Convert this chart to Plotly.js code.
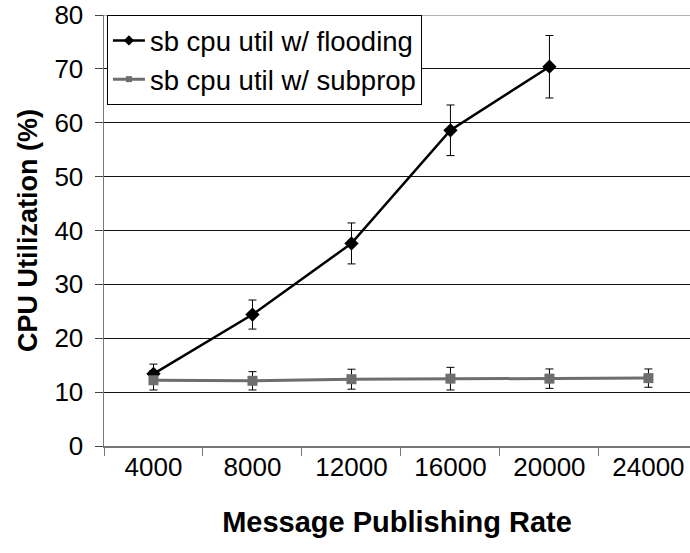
<!DOCTYPE html>
<html>
<head>
<meta charset="utf-8">
<script src="https://cdn.plot.ly/plotly-3.0.1.min.js"></script>
<style>html,body{margin:0;padding:0;background:#fff;}#chart{width:690px;height:553px;}</style>
</head>
<body>
<div id="chart"></div>
<script>
var categories = ["4000", "8000", "12000", "16000", "20000", "24000"];
var floodingCats = ["4000", "8000", "12000", "16000", "20000"];
var floodingValues = [13.4, 24.4, 37.6, 58.6, 70.4];
var floodingErrors = [1.8, 2.7, 3.8, 4.7, 5.8];
var subpropValues = [12.2, 12.1, 12.4, 12.5, 12.5, 12.6];
var subpropErrors = [1.8, 1.7, 1.85, 2.1, 1.8, 1.7];
var yTicks = [0, 10, 20, 30, 40, 50, 60, 70, 80];

var font = "Liberation Sans, Arial, sans-serif";
var gray = "#6e6e6e";

var traces = [
  {
    x: floodingCats, y: floodingValues, name: "sb cpu util w/ flooding",
    type: "scatter", mode: "lines+markers",
    line: {color: "#000", width: 2.5},
    marker: {symbol: "diamond", size: 11, color: "#000"},
    error_y: {type: "data", array: floodingErrors, visible: true, color: "#000", thickness: 1, width: 4},
    showlegend: false
  },
  {
    x: categories, y: subpropValues, name: "sb cpu util w/ subprop",
    type: "scatter", mode: "lines+markers",
    line: {color: gray, width: 3},
    marker: {symbol: "square", size: 10, color: gray},
    error_y: {type: "data", array: subpropErrors, visible: true, color: "#000", thickness: 1, width: 4},
    showlegend: false
  },
  {
    x: [null], y: [null], name: "sb cpu util w/ flooding",
    type: "scatter", mode: "lines+markers",
    line: {color: "#000", width: 2.5},
    marker: {symbol: "diamond", size: 8, color: "#000"},
    showlegend: true
  },
  {
    x: [null], y: [null], name: "sb cpu util w/ subprop",
    type: "scatter", mode: "lines+markers",
    line: {color: gray, width: 3},
    marker: {symbol: "square", size: 6, color: gray},
    showlegend: true
  }
];

var layout = {
  width: 690, height: 553,
  margin: {l: 104, r: 0, t: 15, b: 107},
  paper_bgcolor: "#fff", plot_bgcolor: "#fff",
  font: {family: font, size: 26, color: "#000"},
  xaxis: {
    type: "category", categoryorder: "array", categoryarray: categories,
    range: [-0.5, 5.42], tickson: "boundaries",
    ticks: "outside", ticklen: 8, tickcolor: "#777", tickwidth: 1,
    showline: true, linecolor: "#777", linewidth: 1.5,
    showgrid: false, zeroline: false,
    ticklabelstandoff: -3,
    tickfont: {family: font, size: 26, color: "#000"},
    title: {text: "Message Publishing Rate", font: {family: font, size: 29, color: "#000", weight: "bold"}, standoff: 31}
  },
  yaxis: {
    range: [0, 80], tickvals: yTicks, ticktext: yTicks.map(String),
    ticks: "outside", ticklen: 8, tickcolor: "#444", tickwidth: 1,
    showline: true, linecolor: "#777", linewidth: 1.5,
    showgrid: true, gridcolor: "#111", gridwidth: 1, zeroline: false,
    ticklabelstandoff: 6,
    tickfont: {family: font, size: 26, color: "#000"},
    title: {text: "CPU Utilization (%)", font: {family: font, size: 27, color: "#000", weight: "bold"}, standoff: 9}
  },
  legend: {
    x: 0.005, y: 1, xanchor: "left", yanchor: "top",
    bordercolor: "#000", borderwidth: 1, bgcolor: "#fff",
    font: {family: font, size: 27.5, color: "#000"},
    itemwidth: 32, tracegroupgap: 0, traceorder: "normal"
  },
  shapes: [
    {type: "line", xref: "paper", yref: "y", x0: 0, x1: 1, y0: 80, y1: 80, line: {color: "#999", width: 1.5}}
  ],
  showlegend: true
};

Plotly.newPlot("chart", traces, layout, {displayModeBar: false, staticPlot: true});
</script>
</body>
</html>
